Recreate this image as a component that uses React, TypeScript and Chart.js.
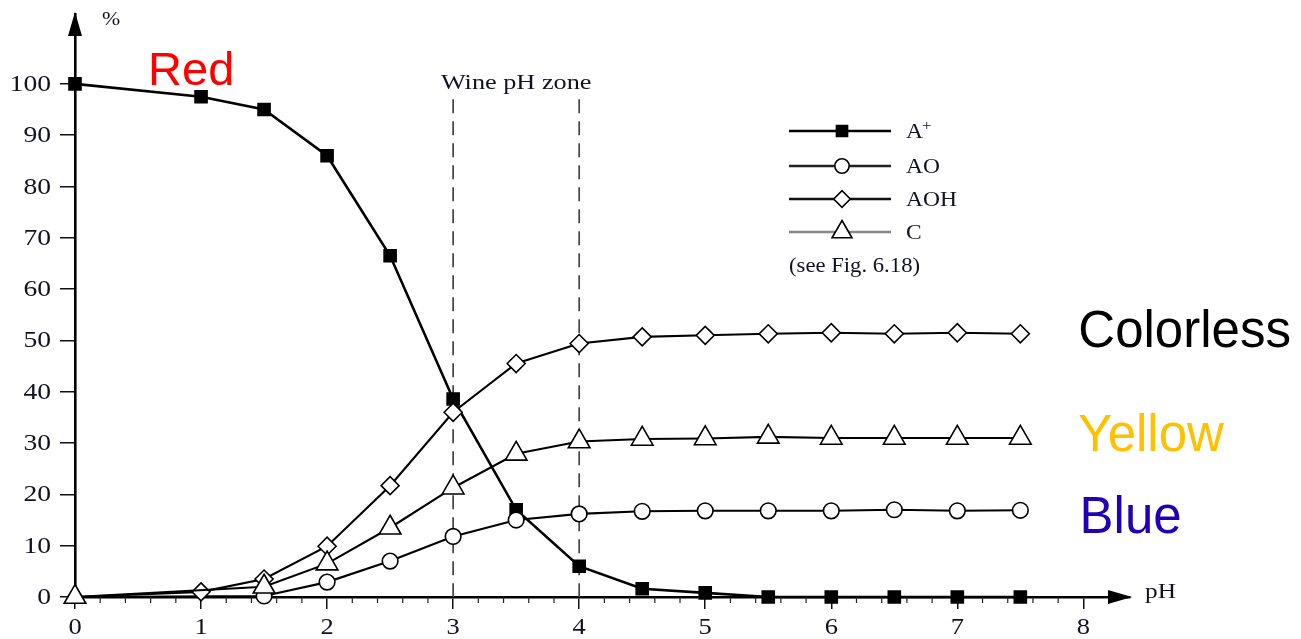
import React, { useEffect, useRef } from 'react';
import { Chart, registerables } from 'chart.js';

Chart.register(...registerables);

// ---- data ----
const pH = [0, 1, 1.5, 2, 2.5, 3, 3.5, 4, 4.5, 5, 5.5, 6, 6.5, 7, 7.5];
const aPlus = [100, 97.5, 95, 86, 66.5, 38.6, 17, 6, 1.6, 0.8, 0, 0, 0, 0, 0];
const aO = [0, null, 0.2, 2.9, 7, 11.8, 15, 16.2, 16.7, 16.8, 16.8, 16.8, 17, 16.8, 16.9];
const aOH = [0, 1, 3.5, 9.9, 21.7, 36, 45.5, 49.4, 50.7, 51, 51.3, 51.5, 51.3, 51.5, 51.3];
const cSeries = [0, null, 2, 6.5, 13.5, 21.3, 27.9, 30.3, 30.8, 30.9, 31.2, 31, 31, 31, 31];
const seriesLabels = ['A', 'AO', 'AOH', 'C'];
const xTicks = [0, 1, 2, 3, 4, 5, 6, 7, 8];
const yTicks = [0, 10, 20, 30, 40, 50, 60, 70, 80, 90, 100];
const wineZone = [3, 4];
const wineZoneLabel = 'Wine pH zone';
const legendNote = '(see Fig. 6.18)';
const colorLabels = ['Red', 'Colorless', 'Yellow', 'Blue'];
const colorLabelPH = [0.58, 7.96, 7.96, 7.97];
const colorLabelPct = [99.8, 48.8, 28.5, 12.4];

const toPts = (vals: (number | null)[]) => pH.map((x, i) => ({ x, y: vals[i] }));

const SERIF = '"Liberation Serif", "Times New Roman", serif';
const SANS = '"Liberation Sans", Arial, sans-serif';
const TXT = '#111122';

type Style = { shape: string; r: number; fill: string; line: string; lw: number; legendLine: string };
const styles: Style[] = [
  { shape: 'rect', r: 8.5, fill: '#000', line: '#000', lw: 2.6, legendLine: '#000' },
  { shape: 'circle', r: 7.8, fill: '#fff', line: '#000', lw: 2.1, legendLine: '#222' },
  { shape: 'rectRot', r: 9, fill: '#fff', line: '#000', lw: 2.1, legendLine: '#111' },
  { shape: 'triangle', r: 12.5, fill: '#fff', line: '#000', lw: 2.1, legendLine: '#888' },
];

function marker(ctx: CanvasRenderingContext2D, shape: string, x: number, y: number, r: number, fill: string) {
  ctx.beginPath();
  if (shape === 'rect') {
    const s = r * Math.SQRT1_2;
    ctx.rect(x - s, y - s, 2 * s, 2 * s);
  } else if (shape === 'circle') {
    ctx.arc(x, y, r, 0, Math.PI * 2);
  } else if (shape === 'rectRot') {
    ctx.moveTo(x - r, y); ctx.lineTo(x, y - r); ctx.lineTo(x + r, y); ctx.lineTo(x, y + r); ctx.closePath();
  } else {
    let a = 0;
    ctx.moveTo(x + Math.sin(a) * r, y - Math.cos(a) * r);
    a += (2 * Math.PI) / 3;
    ctx.lineTo(x + Math.sin(a) * r, y - Math.cos(a) * r);
    a += (2 * Math.PI) / 3;
    ctx.lineTo(x + Math.sin(a) * r, y - Math.cos(a) * r);
    ctx.closePath();
  }
  ctx.fillStyle = fill;
  ctx.fill();
  ctx.lineWidth = 1.6;
  ctx.strokeStyle = '#000';
  ctx.stroke();
}

function stretchedText(ctx: CanvasRenderingContext2D, text: string, x: number, y: number, sx: number, align: CanvasTextAlign) {
  ctx.save();
  ctx.translate(x, y);
  ctx.scale(sx, 1);
  ctx.textAlign = align;
  ctx.fillText(text, 0, 0);
  ctx.restore();
}

const decor = {
  id: 'decor',
  beforeDatasetsDraw(chart: any) {
    const { ctx, scales: { x, y } } = chart;
    ctx.save();
    ctx.strokeStyle = '#444';
    ctx.lineWidth = 1.7;
    ctx.setLineDash([14, 8]);
    wineZone.forEach((v) => {
      const px = x.getPixelForValue(v);
      ctx.beginPath();
      ctx.moveTo(px, y.getPixelForValue(97));
      ctx.lineTo(px, y.getPixelForValue(0));
      ctx.stroke();
    });
    ctx.restore();
  },
  afterDraw(chart: any) {
    const { ctx, scales: { x, y } } = chart;
    const x0 = x.getPixelForValue(0);
    const y0 = y.getPixelForValue(0);
    ctx.save();
    // minor ticks
    ctx.strokeStyle = '#222';
    ctx.lineWidth = 1.2;
    for (let v = 0.2; v < 8; v += 0.2) {
      if (Math.abs(v - Math.round(v)) < 0.01) continue;
      const px = x.getPixelForValue(v);
      ctx.beginPath();
      ctx.moveTo(px, y0);
      ctx.lineTo(px, y0 + 6);
      ctx.stroke();
    }
    // arrows
    ctx.fillStyle = '#000';
    const topY = chart.chartArea.top;
    ctx.beginPath();
    ctx.moveTo(x0, topY - 2);
    ctx.lineTo(x0 - 7, topY + 22);
    ctx.lineTo(x0 + 7, topY + 22);
    ctx.closePath();
    ctx.fill();
    const rightX = chart.chartArea.right;
    ctx.beginPath();
    ctx.moveTo(rightX + 2, y0);
    ctx.lineTo(rightX - 22, y0 - 7);
    ctx.lineTo(rightX - 22, y0 + 7);
    ctx.closePath();
    ctx.fill();

    // tick labels
    ctx.fillStyle = TXT;
    ctx.font = `23px ${SERIF}`;
    ctx.textBaseline = 'middle';
    yTicks.forEach((v) => stretchedText(ctx, String(v), 51, y.getPixelForValue(v) + 1, 1.2, 'right'));
    xTicks.forEach((v) => stretchedText(ctx, String(v), x.getPixelForValue(v), 628, 1.15, 'center'));

    // axis titles
    ctx.font = `19px ${SERIF}`;
    stretchedText(ctx, '%', 102, 20, 1.15, 'left');
    ctx.font = `22px ${SERIF}`;
    stretchedText(ctx, 'pH', 1145, 592, 1.15, 'left');

    // wine zone label
    ctx.font = `21px ${SERIF}`;
    stretchedText(ctx, wineZoneLabel, (x.getPixelForValue(wineZone[0]) + x.getPixelForValue(wineZone[1])) / 2, 83, 1.25, 'center');

    // legend
    const rows = [131, 166, 199, 232];
    rows.forEach((ry, i) => {
      const st = styles[i];
      ctx.strokeStyle = st.legendLine;
      ctx.lineWidth = i === 0 ? 2.6 : 2.4;
      ctx.beginPath();
      ctx.moveTo(789, ry);
      ctx.lineTo(891, ry);
      ctx.stroke();
      marker(ctx, st.shape, 842, ry, st.r * 0.92, st.fill);
      ctx.fillStyle = TXT;
      ctx.font = `21px ${SERIF}`;
      ctx.textBaseline = 'middle';
      stretchedText(ctx, seriesLabels[i], 906, ry + 1, 1.12, 'left');
      if (i === 0) {
        ctx.font = `15px ${SERIF}`;
        stretchedText(ctx, '+', 922, ry - 5, 1.12, 'left');
      }
    });
    ctx.font = `21px ${SERIF}`;
    ctx.fillStyle = TXT;
    stretchedText(ctx, legendNote, 789, 266, 1.08, 'left');

    // colour annotations
    const colors = ['#ff0000', '#000000', '#ffc000', '#2200b4'];
    ctx.textBaseline = 'alphabetic';
    colorLabels.forEach((t, i) => {
      ctx.font = `${i === 0 ? 47 : 51}px ${SANS}`;
      ctx.fillStyle = colors[i];
      ctx.textAlign = 'left';
      ctx.fillText(t, x.getPixelForValue(colorLabelPH[i]), y.getPixelForValue(colorLabelPct[i]));
    });
    ctx.restore();
  },
};

export default function App() {
  const ref = useRef<HTMLCanvasElement>(null);
  useEffect(() => {
    if (!ref.current) return;
    const allData = [aPlus, aO, aOH, cSeries];
    const chart = new Chart(ref.current, {
      type: 'line',
      data: {
        datasets: allData.map((vals, i) => {
          const st = styles[i];
          return {
            label: seriesLabels[i],
            data: toPts(vals),
            borderColor: st.line,
            borderWidth: st.lw,
            backgroundColor: st.fill,
            pointStyle: st.shape,
            pointRadius: (c: any) => (i !== 0 && i !== 3 && c.dataIndex === 0 ? 0 : st.r),
            pointBorderColor: '#000',
            pointBackgroundColor: st.fill,
            pointBorderWidth: 1.6,
            spanGaps: true,
            tension: 0,
            clip: false,
            order: i === 3 ? 0 : 4 - i,
          } as any;
        }),
      },
      options: {
        animation: false,
        responsive: false,
        maintainAspectRatio: false,
        layout: { padding: { top: 12, right: 171, left: 0, bottom: 0 } },
        plugins: { legend: { display: false }, tooltip: { enabled: false } },
        scales: {
          x: {
            type: 'linear',
            min: 0,
            max: 8.37,
            afterBuildTicks: (s: any) => { s.ticks = xTicks.map((v) => ({ value: v })); },
            afterFit: (s: any) => { s.height = 42; },
            grid: { display: true, drawOnChartArea: false, drawTicks: true, tickLength: 12, color: '#111', lineWidth: 1.5 },
            border: { display: true, color: '#000', width: 2.6 },
            ticks: { display: false },
          },
          y: {
            type: 'linear',
            min: 0,
            max: 113.6,
            afterBuildTicks: (s: any) => { s.ticks = yTicks.map((v) => ({ value: v })); },
            afterFit: (s: any) => { s.width = 75; },
            grid: { display: true, drawOnChartArea: false, drawTicks: true, tickLength: 15, color: '#111', lineWidth: 1.5 },
            border: { display: true, color: '#000', width: 2.6 },
            ticks: { display: false },
          },
        },
      } as any,
      plugins: [decor],
    });
    return () => chart.destroy();
  }, []);
  return (
    <div style={{ position: 'absolute', left: 0, top: 0, width: 1301, height: 639, background: '#fff' }}>
      <canvas ref={ref} width={1301} height={639} />
    </div>
  );
}
